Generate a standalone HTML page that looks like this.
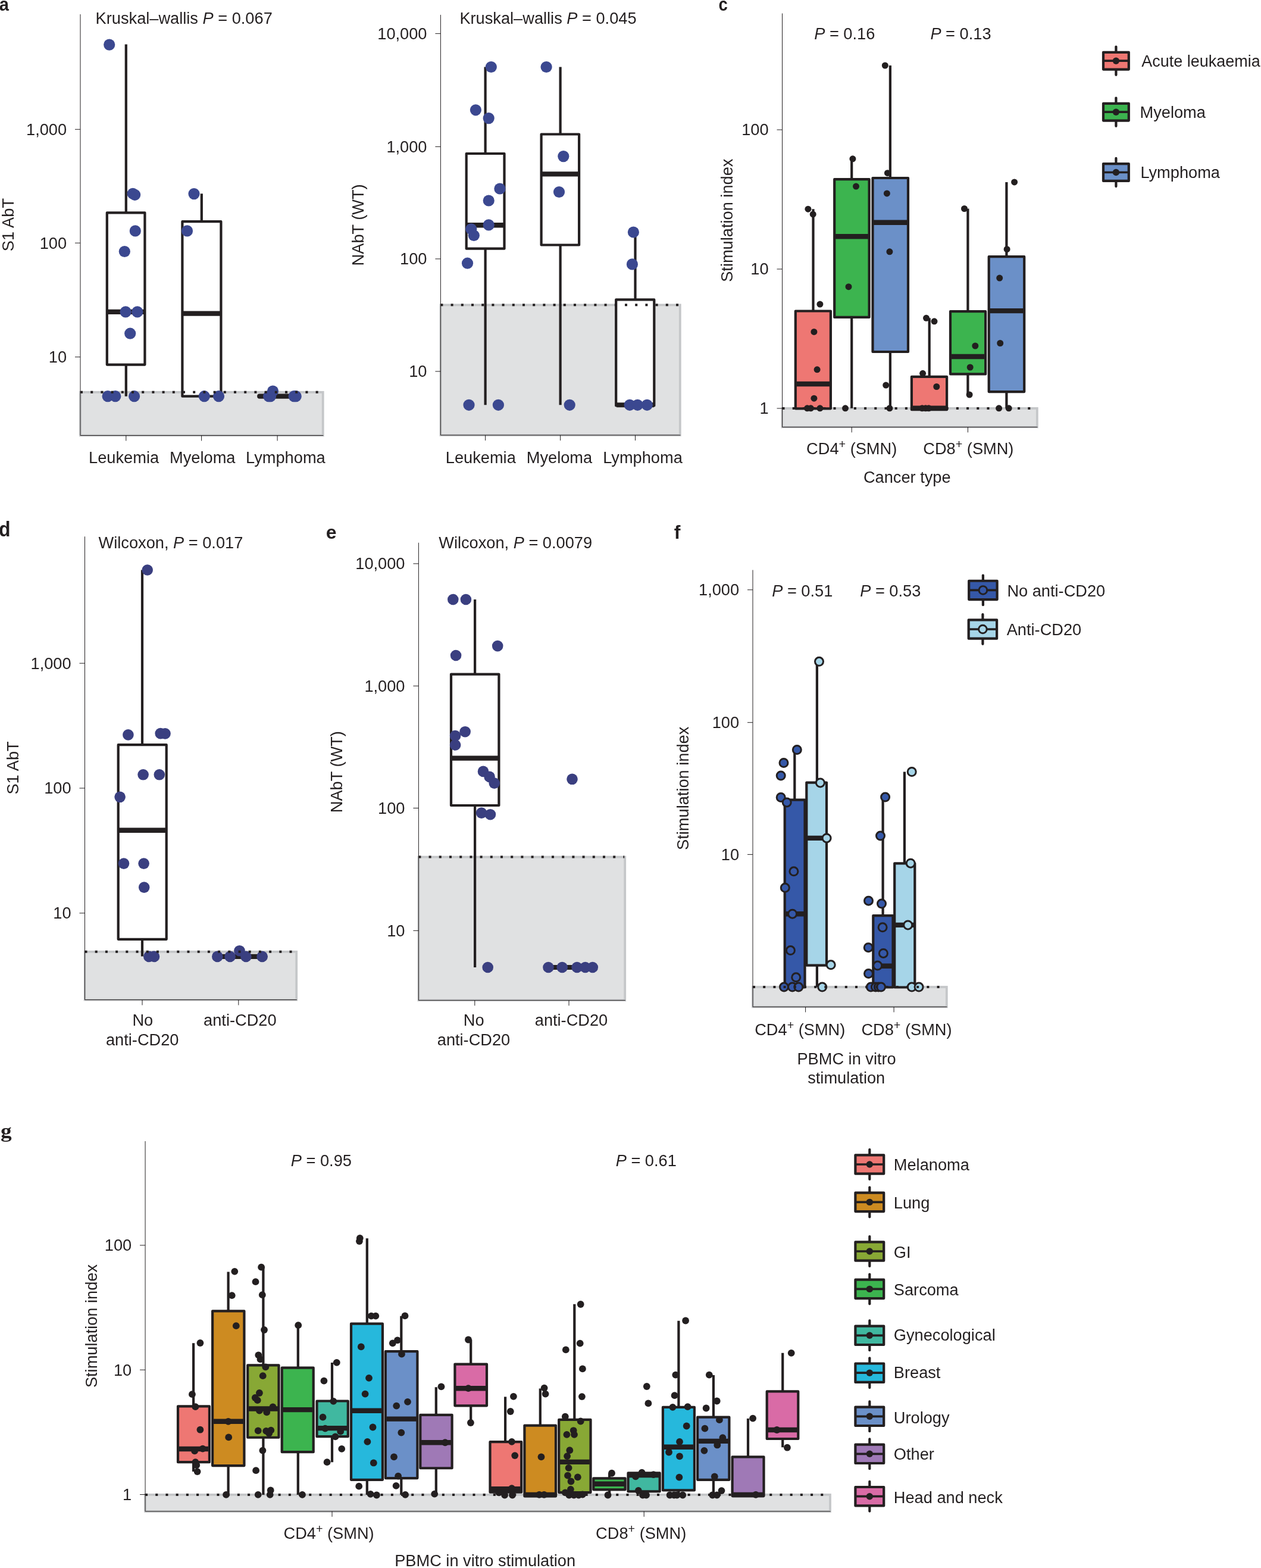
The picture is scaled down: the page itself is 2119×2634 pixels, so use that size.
<!DOCTYPE html>
<html lang="en">
<head>
<meta charset="utf-8">
<title>Figure</title>
<style>
html,body{margin:0;padding:0;background:#fff;}
body{width:2119px;height:2634px;overflow:hidden;}
svg{display:block;}
svg text{font-family:"Liberation Sans",Arial,Helvetica,sans-serif;font-size:28.2px;fill:#231f20;}
</style>
</head>
<body>
<svg width="2119" height="2634" viewBox="0 0 2119 2634">
<rect width="2119" height="2634" fill="#ffffff"/>
<rect x="135" y="658.8" width="407.7" height="72.7" fill="#e0e1e2" stroke="#c5c7c9" stroke-width="3.8"/>
<path d="M211.8 74.4V357.3M211.8 612.6V665.7" fill="none" stroke="#231f20" stroke-width="4.2"/>
<rect x="179.8" y="357.3" width="63.6" height="255.3" fill="#fff" stroke="#231f20" stroke-width="4.2" stroke-linejoin="round"/>
<line x1="179.8" y1="523.9" x2="243.4" y2="523.9" stroke="#231f20" stroke-width="8.4"/>
<path d="M338.8 325.3V372.2" fill="none" stroke="#231f20" stroke-width="4.2"/>
<rect x="306.4" y="372.2" width="65" height="293.5" fill="#fff" stroke="#231f20" stroke-width="4.2" stroke-linejoin="round"/>
<line x1="306.4" y1="526.6" x2="371.4" y2="526.6" stroke="#231f20" stroke-width="8.4"/>
<line x1="436.2" y1="665.7" x2="494.9" y2="665.7" stroke="#231f20" stroke-width="8.2" stroke-linecap="round"/>
<g fill="#3b4890"><circle cx="183.7" cy="75.1" r="9.6"/><circle cx="223.2" cy="325.3" r="9.6"/><circle cx="226.6" cy="327.3" r="9.6"/><circle cx="227.3" cy="387.9" r="9.6"/><circle cx="209.3" cy="422.5" r="9.6"/><circle cx="211.1" cy="523.9" r="9.6"/><circle cx="230.8" cy="523.9" r="9.6"/><circle cx="218.7" cy="560.2" r="9.6"/><circle cx="181.1" cy="665.7" r="9.6"/><circle cx="193.8" cy="665.7" r="9.6"/><circle cx="225.6" cy="665.7" r="9.6"/><circle cx="326" cy="325.6" r="9.6"/><circle cx="314.5" cy="387.9" r="9.6"/><circle cx="343.3" cy="665.7" r="9.6"/><circle cx="367.5" cy="665.7" r="9.6"/><circle cx="451.6" cy="665.7" r="9.6"/><circle cx="454.5" cy="665.7" r="9.6"/><circle cx="458.5" cy="657" r="9.6"/><circle cx="494.1" cy="665.7" r="9.6"/><circle cx="497.2" cy="665.7" r="9.6"/></g>
<line x1="135" y1="658.8" x2="541.7" y2="658.8" stroke="#231f20" stroke-width="4" stroke-dasharray="4 13.2"/>
<path d="M135 24V731.5H543.3" fill="none" stroke="#231f20" stroke-width="1"/>
<path d="M126 217.3H135M126 408.2H135M126 599.7H135M211.8 731.5V740.5M338.6 731.5V740.5M466.1 731.5V740.5" fill="none" stroke="#231f20" stroke-width="1"/>
<text transform="translate(112.1 226.6) scale(0.965 1)" text-anchor="end">1,000</text>
<text transform="translate(112.1 417.5) scale(0.965 1)" text-anchor="end">100</text>
<text transform="translate(112.1 609) scale(0.965 1)" text-anchor="end">10</text>
<text transform="translate(160.6 39.8) scale(0.965 1)" text-anchor="start">Kruskal–wallis <tspan font-style="italic">P</tspan> = 0.067</text>
<text transform="translate(149.1 778.2) scale(0.965 1)" text-anchor="start">Leukemia</text>
<text transform="translate(285.1 778.2) scale(0.965 1)" text-anchor="start">Myeloma</text>
<text transform="translate(413.1 778.2) scale(0.965 1)" text-anchor="start">Lymphoma</text>
<text transform="translate(23.2 377.6) rotate(-90) scale(0.965 1)" text-anchor="middle">S1 AbT</text>
<text transform="translate(-1.2 17.5) scale(0.91 1.0)" style="font-weight:bold;font-size:32px;">a</text>
<rect x="740.4" y="512.3" width="402.4" height="218.7" fill="#e0e1e2" stroke="#c5c7c9" stroke-width="3.8"/>
<path d="M815.6 112.5V258M815.6 417.7V680.3" fill="none" stroke="#231f20" stroke-width="4.2"/>
<rect x="783.7" y="258" width="63.8" height="159.7" fill="#fff" stroke="#231f20" stroke-width="4.2" stroke-linejoin="round"/>
<line x1="783.7" y1="378.2" x2="847.5" y2="378.2" stroke="#231f20" stroke-width="8.4"/>
<path d="M941.6 112.5V225.5M941.6 411.5V680.3" fill="none" stroke="#231f20" stroke-width="4.2"/>
<rect x="909.6" y="225.5" width="63.5" height="186" fill="#fff" stroke="#231f20" stroke-width="4.2" stroke-linejoin="round"/>
<line x1="909.6" y1="292.4" x2="973.1" y2="292.4" stroke="#231f20" stroke-width="8.4"/>
<path d="M1067.5 390V503.4" fill="none" stroke="#231f20" stroke-width="4.2"/>
<rect x="1035.2" y="503.4" width="64.1" height="178" fill="#fff" stroke="#231f20" stroke-width="4.2" stroke-linejoin="round"/>
<line x1="1036.2" y1="680.3" x2="1098.9" y2="680.3" stroke="#231f20" stroke-width="8"/>
<g fill="#3b4890"><circle cx="825.3" cy="112.5" r="9.6"/><circle cx="799.4" cy="184.8" r="9.6"/><circle cx="821.2" cy="198.6" r="9.6"/><circle cx="839.9" cy="317" r="9.6"/><circle cx="821.2" cy="337" r="9.6"/><circle cx="821.2" cy="377.9" r="9.6"/><circle cx="791.8" cy="384.8" r="9.6"/><circle cx="796.3" cy="395.5" r="9.6"/><circle cx="785.5" cy="442.2" r="9.6"/><circle cx="788" cy="680.3" r="9.6"/><circle cx="837.4" cy="680.3" r="9.6"/><circle cx="918.1" cy="112.5" r="9.6"/><circle cx="946.8" cy="262.6" r="9.6"/><circle cx="939.5" cy="322.5" r="9.6"/><circle cx="957.2" cy="680.3" r="9.6"/><circle cx="1064.4" cy="390" r="9.6"/><circle cx="1062.4" cy="443.9" r="9.6"/><circle cx="1058.2" cy="680.3" r="9.6"/><circle cx="1071.3" cy="680.3" r="9.6"/><circle cx="1087.3" cy="680.3" r="9.6"/></g>
<line x1="740.4" y1="512.3" x2="1141.8" y2="512.3" stroke="#231f20" stroke-width="4" stroke-dasharray="4 13.2"/>
<path d="M740.4 24.9V731H1143.4" fill="none" stroke="#231f20" stroke-width="1"/>
<path d="M731.4 56.4H740.4M731.4 246.4H740.4M731.4 434.9H740.4M731.4 623.9H740.4M815.6 731V740M941.6 731V740M1067.5 731V740" fill="none" stroke="#231f20" stroke-width="1"/>
<text transform="translate(717.5 65.7) scale(0.965 1)" text-anchor="end">10,000</text>
<text transform="translate(717.5 255.7) scale(0.965 1)" text-anchor="end">1,000</text>
<text transform="translate(717.5 444.2) scale(0.965 1)" text-anchor="end">100</text>
<text transform="translate(717.5 633.2) scale(0.965 1)" text-anchor="end">10</text>
<text transform="translate(772.4 39.8) scale(0.965 1)" text-anchor="start">Kruskal–wallis <tspan font-style="italic">P</tspan> = 0.045</text>
<text transform="translate(748.8 778.2) scale(0.965 1)" text-anchor="start">Leukemia</text>
<text transform="translate(884.8 778.2) scale(0.965 1)" text-anchor="start">Myeloma</text>
<text transform="translate(1013.2 778.2) scale(0.965 1)" text-anchor="start">Lymphoma</text>
<text transform="translate(610.7 377.9) rotate(-90) scale(0.965 1)" text-anchor="middle">NAbT (WT)</text>
<rect x="1314.5" y="685.95" width="428.3" height="31.5" fill="#e0e1e2" stroke="#c5c7c9" stroke-width="3.8"/>
<path d="M1366.5 351.2V522.5" fill="none" stroke="#231f20" stroke-width="4.2"/>
<rect x="1336.8" y="522.5" width="59.1" height="163.8" fill="#ee7773" stroke="#231f20" stroke-width="4.2" stroke-linejoin="round"/>
<line x1="1336.8" y1="645" x2="1395.9" y2="645" stroke="#231f20" stroke-width="8.4"/>
<path d="M1431.2 266.4V301.1M1431.2 532.9V685.8" fill="none" stroke="#231f20" stroke-width="4.2"/>
<rect x="1402.2" y="301.1" width="58.4" height="231.8" fill="#3cb44f" stroke="#231f20" stroke-width="4.2" stroke-linejoin="round"/>
<line x1="1402.2" y1="397.2" x2="1460.6" y2="397.2" stroke="#231f20" stroke-width="8.4"/>
<path d="M1495.9 110V299M1495.9 591V685.8" fill="none" stroke="#231f20" stroke-width="4.2"/>
<rect x="1466.5" y="299" width="59.5" height="292" fill="#6b90c8" stroke="#231f20" stroke-width="4.2" stroke-linejoin="round"/>
<line x1="1466.5" y1="373.7" x2="1526" y2="373.7" stroke="#231f20" stroke-width="8.4"/>
<path d="M1561.7 534.3V632.9" fill="none" stroke="#231f20" stroke-width="4.2"/>
<rect x="1531.9" y="632.9" width="59.2" height="55.3" fill="#ee7773" stroke="#231f20" stroke-width="4.2" stroke-linejoin="round"/>
<line x1="1531.9" y1="685.8" x2="1591.1" y2="685.8" stroke="#231f20" stroke-width="8.4"/>
<path d="M1626.4 350.5V523.2M1626.4 628.4V663" fill="none" stroke="#231f20" stroke-width="4.2"/>
<rect x="1597" y="523.2" width="59.1" height="105.2" fill="#3cb44f" stroke="#231f20" stroke-width="4.2" stroke-linejoin="round"/>
<line x1="1597" y1="599" x2="1656.1" y2="599" stroke="#231f20" stroke-width="8.4"/>
<path d="M1691.4 305.9V431.2M1691.4 658.1V685.8" fill="none" stroke="#231f20" stroke-width="4.2"/>
<rect x="1661.7" y="431.2" width="59.5" height="226.9" fill="#6b90c8" stroke="#231f20" stroke-width="4.2" stroke-linejoin="round"/>
<line x1="1661.7" y1="522.1" x2="1721.2" y2="522.1" stroke="#231f20" stroke-width="8.4"/>
<g fill="#231f20"><circle cx="1357.9" cy="351.2" r="5.5"/><circle cx="1366.2" cy="359.9" r="5.5"/><circle cx="1377.9" cy="511.1" r="5.5"/><circle cx="1367.9" cy="557.4" r="5.5"/><circle cx="1373.1" cy="620.8" r="5.5"/><circle cx="1367.9" cy="669.2" r="5.5"/><circle cx="1356.5" cy="685.8" r="5.5"/><circle cx="1362.4" cy="685.8" r="5.5"/><circle cx="1377.9" cy="685.8" r="5.5"/><circle cx="1432.9" cy="266.8" r="5.5"/><circle cx="1438.5" cy="313.1" r="5.5"/><circle cx="1426" cy="481.7" r="5.5"/><circle cx="1420.5" cy="685.8" r="5.5"/><circle cx="1487.3" cy="110" r="5.5"/><circle cx="1491.4" cy="290.7" r="5.5"/><circle cx="1490.4" cy="324.9" r="5.5"/><circle cx="1494.9" cy="422.8" r="5.5"/><circle cx="1488.7" cy="647.1" r="5.5"/><circle cx="1494.9" cy="685.8" r="5.5"/><circle cx="1556.5" cy="534.3" r="5.5"/><circle cx="1570" cy="539.8" r="5.5"/><circle cx="1550.6" cy="627.3" r="5.5"/><circle cx="1573.8" cy="649.5" r="5.5"/><circle cx="1549.6" cy="685.8" r="5.5"/><circle cx="1555.4" cy="685.8" r="5.5"/><circle cx="1560.6" cy="685.8" r="5.5"/><circle cx="1620.5" cy="350.5" r="5.5"/><circle cx="1638.8" cy="581" r="5.5"/><circle cx="1630.2" cy="617" r="5.5"/><circle cx="1629.1" cy="663" r="5.5"/><circle cx="1704.6" cy="305.9" r="5.5"/><circle cx="1692.1" cy="418.7" r="5.5"/><circle cx="1679.7" cy="467.1" r="5.5"/><circle cx="1680.7" cy="576.5" r="5.5"/><circle cx="1678.6" cy="685.8" r="5.5"/><circle cx="1695.2" cy="685.8" r="5.5"/></g>
<line x1="1314.5" y1="685.95" x2="1741.8" y2="685.95" stroke="#231f20" stroke-width="4" stroke-dasharray="4 13.2"/>
<path d="M1314.5 22.5V717.45H1743.4" fill="none" stroke="#231f20" stroke-width="1"/>
<path d="M1305.5 218H1314.5M1305.5 452H1314.5M1305.5 686H1314.5M1431.2 717.45V726.45M1626.4 717.45V726.45" fill="none" stroke="#231f20" stroke-width="1"/>
<text transform="translate(1291.6 227.3) scale(0.965 1)" text-anchor="end">100</text>
<text transform="translate(1291.6 461.3) scale(0.965 1)" text-anchor="end">10</text>
<text transform="translate(1291.6 695.3) scale(0.965 1)" text-anchor="end">1</text>
<text transform="translate(1368.2 65.7) scale(0.965 1)" text-anchor="start"><tspan font-style="italic">P</tspan> = 0.16</text>
<text transform="translate(1563.4 65.7) scale(0.965 1)" text-anchor="start"><tspan font-style="italic">P</tspan> = 0.13</text>
<text transform="translate(1355.1 763.3) scale(0.965 1)" text-anchor="start">CD4<tspan dy="-10.3" style="font-size:20.5px">+</tspan><tspan dy="10.3"> (SMN)</tspan></text>
<text transform="translate(1551.3 763.3) scale(0.965 1)" text-anchor="start">CD8<tspan dy="-10.3" style="font-size:20.5px">+</tspan><tspan dy="10.3"> (SMN)</tspan></text>
<text transform="translate(1450.9 810.7) scale(0.965 1)" text-anchor="start">Cancer type</text>
<text transform="translate(1230.6 370.2) rotate(-90) scale(0.965 1)" text-anchor="middle">Stimulation index</text>
<text transform="translate(1207.6 17.7) scale(0.86 1.0)" style="font-weight:bold;font-size:32px;">c</text>
<line x1="1875.4" y1="78.6" x2="1875.4" y2="125.8" stroke="#231f20" stroke-width="4.2" stroke-linecap="round"/>
<rect x="1854" y="87.8" width="42.8" height="28.8" fill="#ee7773" stroke="#231f20" stroke-width="4.2" stroke-linejoin="round"/>
<line x1="1854" y1="102.2" x2="1896.8" y2="102.2" stroke="#231f20" stroke-width="3.7"/>
<circle cx="1875.4" cy="102.2" r="5.7" fill="#231f20"/>
<text transform="translate(1918.3 111.9) scale(0.957 1)" text-anchor="start">Acute leukaemia</text>
<line x1="1875.4" y1="164.6" x2="1875.4" y2="211.8" stroke="#231f20" stroke-width="4.2" stroke-linecap="round"/>
<rect x="1854" y="173.8" width="42.8" height="28.8" fill="#3cb44f" stroke="#231f20" stroke-width="4.2" stroke-linejoin="round"/>
<line x1="1854" y1="188.2" x2="1896.8" y2="188.2" stroke="#231f20" stroke-width="3.7"/>
<circle cx="1875.4" cy="188.2" r="5.7" fill="#231f20"/>
<text transform="translate(1915.5 197.9) scale(0.965 1)" text-anchor="start">Myeloma</text>
<line x1="1875.4" y1="265.9" x2="1875.4" y2="313.1" stroke="#231f20" stroke-width="4.2" stroke-linecap="round"/>
<rect x="1854" y="275.1" width="42.8" height="28.8" fill="#6b90c8" stroke="#231f20" stroke-width="4.2" stroke-linejoin="round"/>
<line x1="1854" y1="289.5" x2="1896.8" y2="289.5" stroke="#231f20" stroke-width="3.7"/>
<circle cx="1875.4" cy="289.5" r="5.7" fill="#231f20"/>
<text transform="translate(1916.4 298.7) scale(0.965 1)" text-anchor="start">Lymphoma</text>
<rect x="142.5" y="1598.8" width="355.7" height="80.7" fill="#e0e1e2" stroke="#c5c7c9" stroke-width="3.8"/>
<path d="M239 957.5V1251.2M239 1577.8V1606.6" fill="none" stroke="#231f20" stroke-width="4.2"/>
<rect x="198.7" y="1251.2" width="81" height="326.6" fill="#fff" stroke="#231f20" stroke-width="4.2" stroke-linejoin="round"/>
<line x1="198.7" y1="1394.7" x2="279.7" y2="1394.7" stroke="#231f20" stroke-width="8.4"/>
<line x1="361.6" y1="1606.9" x2="445.4" y2="1606.9" stroke="#231f20" stroke-width="8.2" stroke-linecap="round"/>
<g fill="#3a3f80"><circle cx="247.7" cy="957.5" r="9.3"/><circle cx="215.4" cy="1234.4" r="9.3"/><circle cx="269.7" cy="1232.1" r="9.3"/><circle cx="277.5" cy="1232.4" r="9.3"/><circle cx="240.6" cy="1301.3" r="9.3"/><circle cx="267.8" cy="1301.3" r="9.3"/><circle cx="201.6" cy="1338.8" r="9.3"/><circle cx="208" cy="1450.6" r="9.3"/><circle cx="241.6" cy="1450.6" r="9.3"/><circle cx="242.2" cy="1490.6" r="9.3"/><circle cx="250.3" cy="1606.9" r="9.3"/><circle cx="259" cy="1606.9" r="9.3"/><circle cx="365.3" cy="1606.9" r="9.3"/><circle cx="386.6" cy="1606.9" r="9.3"/><circle cx="402.5" cy="1597.2" r="9.3"/><circle cx="413.4" cy="1606.9" r="9.3"/><circle cx="440.6" cy="1606.9" r="9.3"/></g>
<line x1="142.5" y1="1598.8" x2="497.2" y2="1598.8" stroke="#231f20" stroke-width="4" stroke-dasharray="4 13.2"/>
<path d="M142.5 901.3V1679.5H498.8" fill="none" stroke="#231f20" stroke-width="1"/>
<path d="M133.5 1114.2H142.5M133.5 1324H142.5M133.5 1533.9H142.5M239 1679.5V1688.5M400.8 1679.5V1688.5" fill="none" stroke="#231f20" stroke-width="1"/>
<text transform="translate(119.6 1123.5) scale(0.965 1)" text-anchor="end">1,000</text>
<text transform="translate(119.6 1333.3) scale(0.965 1)" text-anchor="end">100</text>
<text transform="translate(119.6 1543.2) scale(0.965 1)" text-anchor="end">10</text>
<text transform="translate(165.6 920.7) scale(0.965 1)" text-anchor="start">Wilcoxon, <tspan font-style="italic">P</tspan> = 0.017</text>
<text transform="translate(239.8 1722.5) scale(0.965 1)" text-anchor="middle">No</text>
<text transform="translate(239.2 1756.1) scale(0.965 1)" text-anchor="middle">anti-CD20</text>
<text transform="translate(403.3 1722.5) scale(0.965 1)" text-anchor="middle">anti-CD20</text>
<text transform="translate(31.1 1289.9) rotate(-90) scale(0.965 1)" text-anchor="middle">S1 AbT</text>
<text transform="translate(-1.9 900.7) scale(1.0 1.07)" style="font-weight:bold;font-size:32px;">d</text>
<rect x="703.4" y="1439.6" width="346.8" height="240.75" fill="#e0e1e2" stroke="#c5c7c9" stroke-width="3.8"/>
<path d="M798.1 1007V1132.6M798.1 1353V1625" fill="none" stroke="#231f20" stroke-width="4.2"/>
<rect x="758" y="1132.6" width="80.4" height="220.4" fill="#fff" stroke="#231f20" stroke-width="4.2" stroke-linejoin="round"/>
<line x1="758" y1="1273.6" x2="838.4" y2="1273.6" stroke="#231f20" stroke-width="8.4"/>
<line x1="917.6" y1="1625" x2="998.9" y2="1625" stroke="#231f20" stroke-width="8.2" stroke-linecap="round"/>
<g fill="#3a3f80"><circle cx="761.3" cy="1007" r="9.3"/><circle cx="782.9" cy="1007" r="9.3"/><circle cx="836.2" cy="1085.1" r="9.3"/><circle cx="766.1" cy="1101" r="9.3"/><circle cx="781.6" cy="1229.2" r="9.3"/><circle cx="765.1" cy="1236" r="9.3"/><circle cx="765.1" cy="1251.5" r="9.3"/><circle cx="812" cy="1295.9" r="9.3"/><circle cx="822.6" cy="1304.9" r="9.3"/><circle cx="830.7" cy="1315.6" r="9.3"/><circle cx="809.1" cy="1365.6" r="9.3"/><circle cx="823.9" cy="1368.2" r="9.3"/><circle cx="819.7" cy="1625" r="9.3"/><circle cx="961.5" cy="1308.8" r="9.3"/><circle cx="921.5" cy="1625" r="9.3"/><circle cx="944.7" cy="1625" r="9.3"/><circle cx="969.6" cy="1625" r="9.3"/><circle cx="983.5" cy="1625" r="9.3"/><circle cx="995.8" cy="1625" r="9.3"/></g>
<line x1="703.4" y1="1439.6" x2="1049.2" y2="1439.6" stroke="#231f20" stroke-width="4" stroke-dasharray="4 13.2"/>
<path d="M703.4 911.7V1680.35H1050.8" fill="none" stroke="#231f20" stroke-width="1"/>
<path d="M694.4 946.9H703.4M694.4 1152.3H703.4M694.4 1357.5H703.4M694.4 1563.3H703.4M797.8 1680.35V1689.35M956 1680.35V1689.35" fill="none" stroke="#231f20" stroke-width="1"/>
<text transform="translate(680.5 956.2) scale(0.965 1)" text-anchor="end">10,000</text>
<text transform="translate(680.5 1161.6) scale(0.965 1)" text-anchor="end">1,000</text>
<text transform="translate(680.5 1366.8) scale(0.965 1)" text-anchor="end">100</text>
<text transform="translate(680.5 1572.6) scale(0.965 1)" text-anchor="end">10</text>
<text transform="translate(737.2 920.7) scale(0.965 1)" text-anchor="start">Wilcoxon, <tspan font-style="italic">P</tspan> = 0.0079</text>
<text transform="translate(796.2 1722.5) scale(0.965 1)" text-anchor="middle">No</text>
<text transform="translate(796 1756.1) scale(0.965 1)" text-anchor="middle">anti-CD20</text>
<text transform="translate(960 1722.5) scale(0.965 1)" text-anchor="middle">anti-CD20</text>
<text transform="translate(574.8 1296.7) rotate(-90) scale(0.965 1)" text-anchor="middle">NAbT (WT)</text>
<text transform="translate(547.8 904.6) scale(1.0 1.0)" style="font-weight:bold;font-size:32px;">e</text>
<rect x="1265" y="1658" width="325.8" height="33.4" fill="#e0e1e2" stroke="#c5c7c9" stroke-width="3.8"/>
<path d="M1335.3 1259.5V1343.7" fill="none" stroke="#231f20" stroke-width="4.2"/>
<rect x="1318.7" y="1343.7" width="33.8" height="314.8" fill="#3558a8" stroke="#231f20" stroke-width="4.2" stroke-linejoin="round"/>
<line x1="1318.7" y1="1535.2" x2="1352.5" y2="1535.2" stroke="#231f20" stroke-width="8.4"/>
<path d="M1372.9 1111.3V1314.6M1372.9 1621.6V1657.9" fill="none" stroke="#231f20" stroke-width="4.2"/>
<rect x="1355.3" y="1314.6" width="33.7" height="307" fill="#a6d5e8" stroke="#231f20" stroke-width="4.2" stroke-linejoin="round"/>
<line x1="1355.3" y1="1407.9" x2="1389" y2="1407.9" stroke="#231f20" stroke-width="8.4"/>
<path d="M1483.6 1339.1V1538.1" fill="none" stroke="#231f20" stroke-width="4.2"/>
<rect x="1467.3" y="1538.1" width="33.2" height="120.4" fill="#3558a8" stroke="#231f20" stroke-width="4.2" stroke-linejoin="round"/>
<line x1="1467.3" y1="1622.7" x2="1500.5" y2="1622.7" stroke="#231f20" stroke-width="8.4"/>
<path d="M1519.9 1296.5V1450.3" fill="none" stroke="#231f20" stroke-width="4.2"/>
<rect x="1503.2" y="1450.3" width="34.1" height="208.2" fill="#a6d5e8" stroke="#231f20" stroke-width="4.2" stroke-linejoin="round"/>
<line x1="1503.2" y1="1553.9" x2="1537.3" y2="1553.9" stroke="#231f20" stroke-width="8.4"/>
<g fill="#3558a8" stroke="#231f20" stroke-width="3.0"><circle cx="1339.3" cy="1259.5" r="7.0"/><circle cx="1317" cy="1281.5" r="7.0"/><circle cx="1312.2" cy="1303" r="7.0"/><circle cx="1312.2" cy="1339.5" r="7.0"/><circle cx="1322.2" cy="1347.9" r="7.0"/><circle cx="1333.9" cy="1463.8" r="7.0"/><circle cx="1319.3" cy="1491.3" r="7.0"/><circle cx="1331.6" cy="1535.2" r="7.0"/><circle cx="1328.4" cy="1596.6" r="7.0"/><circle cx="1337.7" cy="1641.8" r="7.0"/><circle cx="1317.5" cy="1658.1" r="7.0"/><circle cx="1331.5" cy="1658.1" r="7.0"/><circle cx="1341.9" cy="1658.1" r="7.0"/><circle cx="1487.6" cy="1339.1" r="7.0"/><circle cx="1479.5" cy="1404.1" r="7.0"/><circle cx="1459.5" cy="1513.2" r="7.0"/><circle cx="1481.5" cy="1518.1" r="7.0"/><circle cx="1483.1" cy="1557.8" r="7.0"/><circle cx="1459.2" cy="1591.7" r="7.0"/><circle cx="1484.4" cy="1601.4" r="7.0"/><circle cx="1474.7" cy="1622.1" r="7.0"/><circle cx="1459.5" cy="1635.6" r="7.0"/><circle cx="1463.4" cy="1658.1" r="7.0"/><circle cx="1471.4" cy="1658.1" r="7.0"/><circle cx="1476.3" cy="1658.1" r="7.0"/><circle cx="1480.5" cy="1658.1" r="7.0"/></g>
<g fill="#a6d5e8" stroke="#231f20" stroke-width="3.0"><circle cx="1376.5" cy="1111.3" r="7.0"/><circle cx="1378.4" cy="1314.9" r="7.0"/><circle cx="1389.1" cy="1407.9" r="7.0"/><circle cx="1396.2" cy="1620.8" r="7.0"/><circle cx="1381.7" cy="1658.1" r="7.0"/><circle cx="1532.2" cy="1296.5" r="7.0"/><circle cx="1530.2" cy="1450.2" r="7.0"/><circle cx="1525.7" cy="1553.9" r="7.0"/><circle cx="1532.2" cy="1658.1" r="7.0"/><circle cx="1544.1" cy="1658.1" r="7.0"/></g>
<line x1="1265" y1="1658" x2="1589.8" y2="1658" stroke="#231f20" stroke-width="4" stroke-dasharray="4 13.2"/>
<path d="M1265 957.5V1691.4H1591.4" fill="none" stroke="#231f20" stroke-width="1"/>
<path d="M1256 990.8H1265M1256 1213.7H1265M1256 1435.4H1265M1353.6 1691.4V1700.4M1502.1 1691.4V1700.4" fill="none" stroke="#231f20" stroke-width="1"/>
<text transform="translate(1242.1 1000.1) scale(0.965 1)" text-anchor="end">1,000</text>
<text transform="translate(1242.1 1223) scale(0.965 1)" text-anchor="end">100</text>
<text transform="translate(1242.1 1444.7) scale(0.965 1)" text-anchor="end">10</text>
<text transform="translate(1297.2 1002.1) scale(0.965 1)" text-anchor="start"><tspan font-style="italic">P</tspan> = 0.51</text>
<text transform="translate(1445.2 1002.1) scale(0.965 1)" text-anchor="start"><tspan font-style="italic">P</tspan> = 0.53</text>
<text transform="translate(1268.2 1739.3) scale(0.965 1)" text-anchor="start">CD4<tspan dy="-10.3" style="font-size:20.5px">+</tspan><tspan dy="10.3"> (SMN)</tspan></text>
<text transform="translate(1447.4 1739.3) scale(0.965 1)" text-anchor="start">CD8<tspan dy="-10.3" style="font-size:20.5px">+</tspan><tspan dy="10.3"> (SMN)</tspan></text>
<text transform="translate(1422.6 1787.7) scale(0.965 1)" text-anchor="middle">PBMC in vitro</text>
<text transform="translate(1422.2 1820) scale(0.965 1)" text-anchor="middle">stimulation</text>
<text transform="translate(1157.3 1324.3) rotate(-90) scale(0.965 1)" text-anchor="middle">Stimulation index</text>
<text transform="translate(1132.8 905) scale(1.0 1.0)" style="font-weight:bold;font-size:32px;">f</text>
<line x1="1651.9" y1="966.55" x2="1651.9" y2="1016.25" stroke="#231f20" stroke-width="4.2" stroke-linecap="round"/>
<rect x="1628.2" y="975.75" width="47.4" height="31.3" fill="#3558a8" stroke="#231f20" stroke-width="4.2" stroke-linejoin="round"/>
<line x1="1628.2" y1="991.4" x2="1675.6" y2="991.4" stroke="#231f20" stroke-width="3.7"/>
<circle cx="1651.9" cy="991.4" r="6.8" fill="#3558a8" stroke="#231f20" stroke-width="2.9"/>
<text transform="translate(1692.4 1001.5) scale(0.965 1)" text-anchor="start">No anti-CD20</text>
<line x1="1651.4" y1="1032.15" x2="1651.4" y2="1081.85" stroke="#231f20" stroke-width="4.2" stroke-linecap="round"/>
<rect x="1627.7" y="1041.35" width="47.4" height="31.3" fill="#a6d5e8" stroke="#231f20" stroke-width="4.2" stroke-linejoin="round"/>
<line x1="1627.7" y1="1057" x2="1675.1" y2="1057" stroke="#231f20" stroke-width="3.7"/>
<circle cx="1651.4" cy="1057" r="6.8" fill="#a6d5e8" stroke="#231f20" stroke-width="2.9"/>
<text transform="translate(1691.7 1066.7) scale(0.965 1)" text-anchor="start">Anti-CD20</text>
<rect x="244.05" y="2510.9" width="1150.95" height="28" fill="#e0e1e2" stroke="#c5c7c9" stroke-width="3.8"/>
<path d="M325.1 2256.3V2362.3M325.1 2456.17V2472.11" fill="none" stroke="#231f20" stroke-width="4.2"/>
<rect x="299" y="2362.3" width="52.9" height="93.87" fill="#ee7773" stroke="#231f20" stroke-width="4.2" stroke-linejoin="round"/>
<line x1="299" y1="2433.94" x2="351.9" y2="2433.94" stroke="#231f20" stroke-width="8.4"/>
<path d="M383.6 2136.4V2202.3M383.6 2462.03V2510.9" fill="none" stroke="#231f20" stroke-width="4.2"/>
<rect x="357.1" y="2202.3" width="53.3" height="259.73" fill="#cd8b21" stroke="#231f20" stroke-width="4.2" stroke-linejoin="round"/>
<line x1="357.1" y1="2387.8" x2="410.4" y2="2387.8" stroke="#231f20" stroke-width="8.4"/>
<path d="M442.4 2128.7V2293.3M442.4 2414.76V2510.9" fill="none" stroke="#231f20" stroke-width="4.2"/>
<rect x="416.2" y="2293.3" width="52.3" height="121.46" fill="#88a835" stroke="#231f20" stroke-width="4.2" stroke-linejoin="round"/>
<line x1="416.2" y1="2366.5" x2="468.5" y2="2366.5" stroke="#231f20" stroke-width="8.4"/>
<path d="M500.8 2226.2V2297.7M500.8 2439.2V2510.9" fill="none" stroke="#231f20" stroke-width="4.2"/>
<rect x="473.7" y="2297.7" width="53" height="141.5" fill="#3cb44f" stroke="#231f20" stroke-width="4.2" stroke-linejoin="round"/>
<line x1="473.7" y1="2368.1" x2="526.7" y2="2368.1" stroke="#231f20" stroke-width="8.4"/>
<path d="M558 2288.9V2353.5M558 2413.14V2456.16" fill="none" stroke="#231f20" stroke-width="4.2"/>
<rect x="532.5" y="2353.5" width="52.3" height="59.64" fill="#40b8a0" stroke="#231f20" stroke-width="4.2" stroke-linejoin="round"/>
<line x1="532.5" y1="2399.1" x2="584.8" y2="2399.1" stroke="#231f20" stroke-width="8.4"/>
<path d="M616.8 2080.2V2223.7M616.8 2485.86V2510.9" fill="none" stroke="#231f20" stroke-width="4.2"/>
<rect x="590" y="2223.7" width="52.9" height="262.16" fill="#26b8dc" stroke="#231f20" stroke-width="4.2" stroke-linejoin="round"/>
<line x1="590" y1="2369.7" x2="642.9" y2="2369.7" stroke="#231f20" stroke-width="8.4"/>
<path d="M674.3 2210.7V2270.2M674.3 2483.04V2510.9" fill="none" stroke="#231f20" stroke-width="4.2"/>
<rect x="647.8" y="2270.2" width="53.6" height="212.84" fill="#6b90c8" stroke="#231f20" stroke-width="4.2" stroke-linejoin="round"/>
<line x1="647.8" y1="2383.6" x2="701.4" y2="2383.6" stroke="#231f20" stroke-width="8.4"/>
<path d="M732.8 2330.3V2376.8M732.8 2466.27V2510.9" fill="none" stroke="#231f20" stroke-width="4.2"/>
<rect x="706.3" y="2376.8" width="53.3" height="89.47" fill="#9f79b6" stroke="#231f20" stroke-width="4.2" stroke-linejoin="round"/>
<line x1="706.3" y1="2423.23" x2="759.6" y2="2423.23" stroke="#231f20" stroke-width="8.4"/>
<path d="M791.2 2250.5V2291.7M791.2 2361.3V2390" fill="none" stroke="#231f20" stroke-width="4.2"/>
<rect x="764.4" y="2291.7" width="53.6" height="69.6" fill="#d96ba6" stroke="#231f20" stroke-width="4.2" stroke-linejoin="round"/>
<line x1="764.4" y1="2332.2" x2="818" y2="2332.2" stroke="#231f20" stroke-width="8.4"/>
<path d="M849.1 2346.4V2422.21" fill="none" stroke="#231f20" stroke-width="4.2"/>
<rect x="823.5" y="2422.21" width="52.7" height="84.49" fill="#ee7773" stroke="#231f20" stroke-width="4.2" stroke-linejoin="round"/>
<line x1="823.5" y1="2501.2" x2="876.2" y2="2501.2" stroke="#231f20" stroke-width="8.4"/>
<path d="M907.8 2332.5V2394.6" fill="none" stroke="#231f20" stroke-width="4.2"/>
<rect x="881.4" y="2394.6" width="52.6" height="118.8" fill="#cd8b21" stroke="#231f20" stroke-width="4.2" stroke-linejoin="round"/>
<line x1="881.4" y1="2511" x2="934" y2="2511" stroke="#231f20" stroke-width="8.4"/>
<path d="M965.3 2190.7V2384.9" fill="none" stroke="#231f20" stroke-width="4.2"/>
<rect x="939.2" y="2384.9" width="53.3" height="122.2" fill="#88a835" stroke="#231f20" stroke-width="4.2" stroke-linejoin="round"/>
<line x1="939.2" y1="2455.85" x2="992.5" y2="2455.85" stroke="#231f20" stroke-width="8.4"/>
<path d="M1024.1 2474.74V2483.31M1024.1 2502.3V2511" fill="none" stroke="#231f20" stroke-width="4.2"/>
<rect x="997.3" y="2483.31" width="53.3" height="18.99" fill="#3cb44f" stroke="#231f20" stroke-width="4.2" stroke-linejoin="round"/>
<line x1="997.3" y1="2492.82" x2="1050.6" y2="2492.82" stroke="#231f20" stroke-width="8.4"/>
<path d="M1082 2505.4V2511" fill="none" stroke="#231f20" stroke-width="4.2"/>
<rect x="1055.5" y="2474.42" width="53.2" height="30.98" fill="#40b8a0" stroke="#231f20" stroke-width="4.2" stroke-linejoin="round"/>
<line x1="1055.5" y1="2478.17" x2="1108.7" y2="2478.17" stroke="#231f20" stroke-width="8.4"/>
<path d="M1140.4 2218.8V2363.9M1140.4 2503.4V2511" fill="none" stroke="#231f20" stroke-width="4.2"/>
<rect x="1113.9" y="2363.9" width="53" height="139.5" fill="#26b8dc" stroke="#231f20" stroke-width="4.2" stroke-linejoin="round"/>
<line x1="1113.9" y1="2430.7" x2="1166.9" y2="2430.7" stroke="#231f20" stroke-width="8.4"/>
<path d="M1198.9 2309.9V2380.7M1198.9 2485.86V2511" fill="none" stroke="#231f20" stroke-width="4.2"/>
<rect x="1172.1" y="2380.7" width="53.3" height="105.16" fill="#6b90c8" stroke="#231f20" stroke-width="4.2" stroke-linejoin="round"/>
<line x1="1172.1" y1="2420.91" x2="1225.4" y2="2420.91" stroke="#231f20" stroke-width="8.4"/>
<path d="M1257 2382.9V2447.36" fill="none" stroke="#231f20" stroke-width="4.2"/>
<rect x="1230.6" y="2447.36" width="52.9" height="65.74" fill="#9f79b6" stroke="#231f20" stroke-width="4.2" stroke-linejoin="round"/>
<line x1="1230.6" y1="2511" x2="1283.5" y2="2511" stroke="#231f20" stroke-width="8.4"/>
<path d="M1315.2 2272.8V2337.4M1315.2 2416.98V2431.31" fill="none" stroke="#231f20" stroke-width="4.2"/>
<rect x="1288.7" y="2337.4" width="52.6" height="79.58" fill="#d96ba6" stroke="#231f20" stroke-width="4.2" stroke-linejoin="round"/>
<line x1="1288.7" y1="2402.02" x2="1341.3" y2="2402.02" stroke="#231f20" stroke-width="8.4"/>
<g fill="#231f20"><circle cx="336.4" cy="2256" r="5.9"/><circle cx="322.9" cy="2342.2" r="5.9"/><circle cx="328.4" cy="2363.2" r="5.9"/><circle cx="336.4" cy="2401.72" r="5.9"/><circle cx="340.6" cy="2433.63" r="5.9"/><circle cx="327.1" cy="2437.27" r="5.9"/><circle cx="328.4" cy="2456.16" r="5.9"/><circle cx="330.2" cy="2461.21" r="5.9"/><circle cx="331.6" cy="2472.11" r="5.9"/><circle cx="394.3" cy="2135.8" r="5.9"/><circle cx="389.7" cy="2176.2" r="5.9"/><circle cx="396.8" cy="2227.2" r="5.9"/><circle cx="383.6" cy="2387.8" r="5.9"/><circle cx="384.2" cy="2414.44" r="5.9"/><circle cx="380" cy="2510.9" r="5.9"/><circle cx="439.1" cy="2128.7" r="5.9"/><circle cx="429.5" cy="2153.2" r="5.9"/><circle cx="440.8" cy="2175.2" r="5.9"/><circle cx="444" cy="2234" r="5.9"/><circle cx="434.3" cy="2276.3" r="5.9"/><circle cx="437.5" cy="2283.4" r="5.9"/><circle cx="446.3" cy="2296.3" r="5.9"/><circle cx="441.7" cy="2311.2" r="5.9"/><circle cx="435.9" cy="2340" r="5.9"/><circle cx="428.8" cy="2348" r="5.9"/><circle cx="432.7" cy="2352.2" r="5.9"/><circle cx="458.5" cy="2363.5" r="5.9"/><circle cx="435.9" cy="2369.7" r="5.9"/><circle cx="448.2" cy="2372.3" r="5.9"/><circle cx="433.7" cy="2403.33" r="5.9"/><circle cx="447.2" cy="2403.94" r="5.9"/><circle cx="455.3" cy="2402.63" r="5.9"/><circle cx="452.1" cy="2407.88" r="5.9"/><circle cx="441.4" cy="2436.56" r="5.9"/><circle cx="430.1" cy="2470.2" r="5.9"/><circle cx="454.7" cy="2503.4" r="5.9"/><circle cx="433.7" cy="2510.9" r="5.9"/><circle cx="453.7" cy="2510.9" r="5.9"/><circle cx="501.2" cy="2226.2" r="5.9"/><circle cx="508" cy="2510.9" r="5.9"/><circle cx="565.8" cy="2288.9" r="5.9"/><circle cx="544.4" cy="2319.6" r="5.9"/><circle cx="560.3" cy="2353.9" r="5.9"/><circle cx="542.5" cy="2380.7" r="5.9"/><circle cx="546.4" cy="2399.7" r="5.9"/><circle cx="572.2" cy="2404.65" r="5.9"/><circle cx="563.5" cy="2413.43" r="5.9"/><circle cx="574.2" cy="2433.94" r="5.9"/><circle cx="549.6" cy="2456.16" r="5.9"/><circle cx="604.8" cy="2079.9" r="5.9"/><circle cx="603.9" cy="2085.1" r="5.9"/><circle cx="623.9" cy="2210.7" r="5.9"/><circle cx="631.3" cy="2210.7" r="5.9"/><circle cx="606.8" cy="2262.4" r="5.9"/><circle cx="620" cy="2314.8" r="5.9"/><circle cx="613.6" cy="2341.6" r="5.9"/><circle cx="626.5" cy="2397.5" r="5.9"/><circle cx="617.4" cy="2421.92" r="5.9"/><circle cx="627.8" cy="2457.47" r="5.9"/><circle cx="603.2" cy="2496.66" r="5.9"/><circle cx="622.6" cy="2509.9" r="5.9"/><circle cx="632.9" cy="2511.5" r="5.9"/><circle cx="680.5" cy="2210.4" r="5.9"/><circle cx="667.9" cy="2251.4" r="5.9"/><circle cx="659.8" cy="2256.3" r="5.9"/><circle cx="675" cy="2274.7" r="5.9"/><circle cx="685" cy="2354.8" r="5.9"/><circle cx="666.2" cy="2361.6" r="5.9"/><circle cx="674.3" cy="2406.57" r="5.9"/><circle cx="662" cy="2447.37" r="5.9"/><circle cx="669.1" cy="2479.69" r="5.9"/><circle cx="665.6" cy="2495.95" r="5.9"/><circle cx="681.1" cy="2510.9" r="5.9"/><circle cx="741.5" cy="2329.3" r="5.9"/><circle cx="748" cy="2423.23" r="5.9"/><circle cx="730.2" cy="2509.6" r="5.9"/><circle cx="787" cy="2250.5" r="5.9"/><circle cx="787" cy="2332.2" r="5.9"/><circle cx="790.9" cy="2390" r="5.9"/><circle cx="862.9" cy="2345.8" r="5.9"/><circle cx="857.8" cy="2371" r="5.9"/><circle cx="860" cy="2421.92" r="5.9"/><circle cx="865.2" cy="2445.05" r="5.9"/><circle cx="860" cy="2500.19" r="5.9"/><circle cx="838.4" cy="2507.3" r="5.9"/><circle cx="848.1" cy="2511.5" r="5.9"/><circle cx="861" cy="2511.5" r="5.9"/><circle cx="914.6" cy="2331.6" r="5.9"/><circle cx="916.6" cy="2341.6" r="5.9"/><circle cx="909.5" cy="2447.37" r="5.9"/><circle cx="906.2" cy="2510.9" r="5.9"/><circle cx="914.3" cy="2510.9" r="5.9"/><circle cx="975.7" cy="2191" r="5.9"/><circle cx="974.7" cy="2256.6" r="5.9"/><circle cx="950.8" cy="2267.4" r="5.9"/><circle cx="978.9" cy="2299.4" r="5.9"/><circle cx="977.9" cy="2346.1" r="5.9"/><circle cx="949.8" cy="2379.7" r="5.9"/><circle cx="975.7" cy="2387.5" r="5.9"/><circle cx="963.7" cy="2403.03" r="5.9"/><circle cx="952.4" cy="2409.8" r="5.9"/><circle cx="965" cy="2409.8" r="5.9"/><circle cx="957.3" cy="2436.26" r="5.9"/><circle cx="953.1" cy="2446.06" r="5.9"/><circle cx="955.6" cy="2465.95" r="5.9"/><circle cx="954" cy="2478.68" r="5.9"/><circle cx="970.8" cy="2481.3" r="5.9"/><circle cx="959.5" cy="2488.48" r="5.9"/><circle cx="958.9" cy="2501.8" r="5.9"/><circle cx="949.8" cy="2507.3" r="5.9"/><circle cx="956.3" cy="2511.5" r="5.9"/><circle cx="964.4" cy="2511.5" r="5.9"/><circle cx="972.4" cy="2511.5" r="5.9"/><circle cx="978.9" cy="2510.5" r="5.9"/><circle cx="1028" cy="2474.74" r="5.9"/><circle cx="1021.5" cy="2511.5" r="5.9"/><circle cx="1086.8" cy="2329" r="5.9"/><circle cx="1089.4" cy="2357.4" r="5.9"/><circle cx="1068.1" cy="2480.3" r="5.9"/><circle cx="1078.6" cy="2473.63" r="5.9"/><circle cx="1098.1" cy="2477.06" r="5.9"/><circle cx="1072.8" cy="2504" r="5.9"/><circle cx="1080" cy="2511.5" r="5.9"/><circle cx="1086" cy="2511.5" r="5.9"/><circle cx="1152.1" cy="2218.5" r="5.9"/><circle cx="1135.3" cy="2309.6" r="5.9"/><circle cx="1133.6" cy="2344.2" r="5.9"/><circle cx="1130.4" cy="2363.9" r="5.9"/><circle cx="1155.6" cy="2363.2" r="5.9"/><circle cx="1153.7" cy="2395.5" r="5.9"/><circle cx="1142" cy="2421.92" r="5.9"/><circle cx="1124" cy="2439.49" r="5.9"/><circle cx="1142" cy="2446.36" r="5.9"/><circle cx="1141.4" cy="2481.61" r="5.9"/><circle cx="1125.6" cy="2511.5" r="5.9"/><circle cx="1132.7" cy="2511.5" r="5.9"/><circle cx="1137.5" cy="2511.5" r="5.9"/><circle cx="1147.2" cy="2511.5" r="5.9"/><circle cx="1191.8" cy="2309.6" r="5.9"/><circle cx="1204.7" cy="2353.5" r="5.9"/><circle cx="1186.6" cy="2365.5" r="5.9"/><circle cx="1208.9" cy="2385.2" r="5.9"/><circle cx="1184.4" cy="2399.7" r="5.9"/><circle cx="1214.4" cy="2415.05" r="5.9"/><circle cx="1205.3" cy="2427.47" r="5.9"/><circle cx="1183.4" cy="2436.86" r="5.9"/><circle cx="1200.8" cy="2480.3" r="5.9"/><circle cx="1212.5" cy="2504.1" r="5.9"/><circle cx="1197.3" cy="2511.5" r="5.9"/><circle cx="1204.7" cy="2511.5" r="5.9"/><circle cx="1265.1" cy="2382.6" r="5.9"/><circle cx="1270" cy="2510.9" r="5.9"/><circle cx="1329.7" cy="2272.8" r="5.9"/><circle cx="1305.5" cy="2402.02" r="5.9"/><circle cx="1322.9" cy="2431.71" r="5.9"/></g>
<line x1="244.05" y1="2510.9" x2="1394" y2="2510.9" stroke="#231f20" stroke-width="4" stroke-dasharray="4 13.2"/>
<path d="M244.05 1917V2538.9H1395.6" fill="none" stroke="#231f20" stroke-width="1"/>
<path d="M235.05 2091.9H244.05M235.05 2301.2H244.05M235.05 2510.6H244.05M558 2538.9V2547.9M1082.2 2538.9V2547.9" fill="none" stroke="#231f20" stroke-width="1"/>
<text transform="translate(221.15 2101.2) scale(0.965 1)" text-anchor="end">100</text>
<text transform="translate(221.15 2310.5) scale(0.965 1)" text-anchor="end">10</text>
<text transform="translate(221.15 2519.9) scale(0.965 1)" text-anchor="end">1</text>
<text transform="translate(488.8 1959) scale(0.965 1)" text-anchor="start"><tspan font-style="italic">P</tspan> = 0.95</text>
<text transform="translate(1034.7 1959) scale(0.965 1)" text-anchor="start"><tspan font-style="italic">P</tspan> = 0.61</text>
<text transform="translate(476.5 2585.4) scale(0.965 1)" text-anchor="start">CD4<tspan dy="-10.3" style="font-size:20.5px">+</tspan><tspan dy="10.3"> (SMN)</tspan></text>
<text transform="translate(1001.1 2585.4) scale(0.965 1)" text-anchor="start">CD8<tspan dy="-10.3" style="font-size:20.5px">+</tspan><tspan dy="10.3"> (SMN)</tspan></text>
<text transform="translate(663.2 2630.7) scale(0.965 1)" text-anchor="start">PBMC in vitro stimulation</text>
<text transform="translate(163.4 2227.5) rotate(-90) scale(0.965 1)" text-anchor="middle">Stimulation index</text>
<text transform="translate(0.9 1910.6) scale(1.08 1.0)" style="font-weight:bold;font-size:34.5px;font-family:'Liberation Serif',serif;">g</text>
<line x1="1461.3" y1="1931.1" x2="1461.3" y2="1980.9" stroke="#231f20" stroke-width="4.2" stroke-linecap="round"/>
<rect x="1437.4" y="1940.3" width="47.8" height="31.4" fill="#ee7773" stroke="#231f20" stroke-width="4.2" stroke-linejoin="round"/>
<line x1="1437.4" y1="1956" x2="1485.2" y2="1956" stroke="#231f20" stroke-width="3.7"/>
<circle cx="1461.3" cy="1956" r="5.7" fill="#231f20"/>
<text transform="translate(1501.8 1965.9) scale(0.965 1)" text-anchor="start">Melanoma</text>
<line x1="1461.3" y1="1994.5" x2="1461.3" y2="2044.3" stroke="#231f20" stroke-width="4.2" stroke-linecap="round"/>
<rect x="1437.4" y="2003.7" width="47.8" height="31.4" fill="#cd8b21" stroke="#231f20" stroke-width="4.2" stroke-linejoin="round"/>
<line x1="1437.4" y1="2019.4" x2="1485.2" y2="2019.4" stroke="#231f20" stroke-width="3.7"/>
<circle cx="1461.3" cy="2019.4" r="5.7" fill="#231f20"/>
<text transform="translate(1501.8 2029.5) scale(0.965 1)" text-anchor="start">Lung</text>
<line x1="1461.3" y1="2077.1" x2="1461.3" y2="2126.9" stroke="#231f20" stroke-width="4.2" stroke-linecap="round"/>
<rect x="1437.4" y="2086.3" width="47.8" height="31.4" fill="#88a835" stroke="#231f20" stroke-width="4.2" stroke-linejoin="round"/>
<line x1="1437.4" y1="2102" x2="1485.2" y2="2102" stroke="#231f20" stroke-width="3.7"/>
<circle cx="1461.3" cy="2102" r="5.7" fill="#231f20"/>
<text transform="translate(1501.8 2113.3) scale(0.965 1)" text-anchor="start">GI</text>
<line x1="1461.3" y1="2140.5" x2="1461.3" y2="2190.3" stroke="#231f20" stroke-width="4.2" stroke-linecap="round"/>
<rect x="1437.4" y="2149.7" width="47.8" height="31.4" fill="#3cb44f" stroke="#231f20" stroke-width="4.2" stroke-linejoin="round"/>
<line x1="1437.4" y1="2165.4" x2="1485.2" y2="2165.4" stroke="#231f20" stroke-width="3.7"/>
<circle cx="1461.3" cy="2165.4" r="5.7" fill="#231f20"/>
<text transform="translate(1501.8 2176) scale(0.965 1)" text-anchor="start">Sarcoma</text>
<line x1="1461.3" y1="2218.4" x2="1461.3" y2="2268.2" stroke="#231f20" stroke-width="4.2" stroke-linecap="round"/>
<rect x="1437.4" y="2227.6" width="47.8" height="31.4" fill="#40b8a0" stroke="#231f20" stroke-width="4.2" stroke-linejoin="round"/>
<line x1="1437.4" y1="2243.3" x2="1485.2" y2="2243.3" stroke="#231f20" stroke-width="3.7"/>
<circle cx="1461.3" cy="2243.3" r="5.7" fill="#231f20"/>
<text transform="translate(1501.8 2252) scale(0.965 1)" text-anchor="start">Gynecological</text>
<line x1="1461.3" y1="2281.3" x2="1461.3" y2="2331.1" stroke="#231f20" stroke-width="4.2" stroke-linecap="round"/>
<rect x="1437.4" y="2290.5" width="47.8" height="31.4" fill="#26b8dc" stroke="#231f20" stroke-width="4.2" stroke-linejoin="round"/>
<line x1="1437.4" y1="2306.2" x2="1485.2" y2="2306.2" stroke="#231f20" stroke-width="3.7"/>
<circle cx="1461.3" cy="2306.2" r="5.7" fill="#231f20"/>
<text transform="translate(1501.8 2315.3) scale(0.965 1)" text-anchor="start">Breast</text>
<line x1="1461.3" y1="2354.4" x2="1461.3" y2="2404.2" stroke="#231f20" stroke-width="4.2" stroke-linecap="round"/>
<rect x="1437.4" y="2363.6" width="47.8" height="31.4" fill="#6b90c8" stroke="#231f20" stroke-width="4.2" stroke-linejoin="round"/>
<line x1="1437.4" y1="2379.3" x2="1485.2" y2="2379.3" stroke="#231f20" stroke-width="3.7"/>
<circle cx="1461.3" cy="2379.3" r="5.7" fill="#231f20"/>
<text transform="translate(1501.8 2390.8) scale(0.965 1)" text-anchor="start">Urology</text>
<line x1="1461.3" y1="2417.4" x2="1461.3" y2="2467.2" stroke="#231f20" stroke-width="4.2" stroke-linecap="round"/>
<rect x="1437.4" y="2426.6" width="47.8" height="31.4" fill="#9f79b6" stroke="#231f20" stroke-width="4.2" stroke-linejoin="round"/>
<line x1="1437.4" y1="2442.3" x2="1485.2" y2="2442.3" stroke="#231f20" stroke-width="3.7"/>
<circle cx="1461.3" cy="2442.3" r="5.7" fill="#231f20"/>
<text transform="translate(1501.8 2452) scale(0.965 1)" text-anchor="start">Other</text>
<line x1="1461.3" y1="2488.8" x2="1461.3" y2="2538.6" stroke="#231f20" stroke-width="4.2" stroke-linecap="round"/>
<rect x="1437.4" y="2498" width="47.8" height="31.4" fill="#d96ba6" stroke="#231f20" stroke-width="4.2" stroke-linejoin="round"/>
<line x1="1437.4" y1="2513.7" x2="1485.2" y2="2513.7" stroke="#231f20" stroke-width="3.7"/>
<circle cx="1461.3" cy="2513.7" r="5.7" fill="#231f20"/>
<text transform="translate(1501.8 2524.7) scale(0.965 1)" text-anchor="start">Head and neck</text>
</svg>
</body>
</html>
